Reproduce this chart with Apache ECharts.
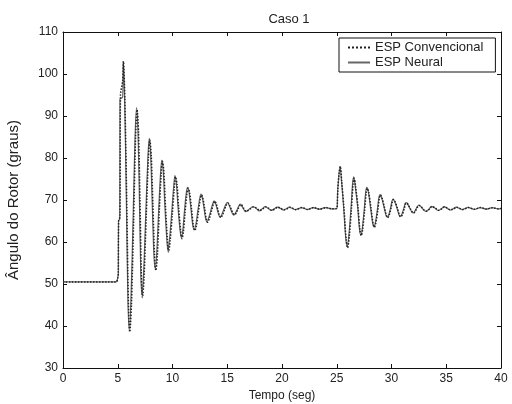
<!DOCTYPE html>
<html><head><meta charset="utf-8">
<script src="https://cdn.jsdelivr.net/npm/echarts@6/dist/echarts.min.js"></script>
<style>html,body{margin:0;padding:0;background:#fff}#c{width:512px;height:404px}</style>
</head><body><div id="c"></div>
<script>
const titleText = 'Caso 1';
const xName = 'Tempo (seg)';
const yName = 'Ângulo do Rotor (graus)';
const seriesNames = ['ESP Convencional', 'ESP Neural'];

const tNeural = [0,4.85,5.0,5.05,5.07,5.18,5.2,5.45,5.5,5.62,5.78,5.92,6.05,6.2,6.4,6.58,6.72,6.85,6.98,7.1,7.2,7.35,7.55,7.75,7.88,8.0,8.15,8.3,8.42,8.55,8.72,8.9,9.02,9.15,9.3,9.47,9.58,9.72,9.92,10.1,10.22,10.35,10.5,10.68,10.8,10.93,11.08,11.25,11.37,11.5,11.68,11.85,11.98,12.12,12.3,12.48,12.6,12.72,12.88,13.03,13.15,13.3,13.48,13.66,13.8,13.93,14.08,14.23,14.36,14.5,14.68,14.86,15.0,15.13,15.3,15.47,15.6,15.75,15.95,16.1,16.2,16.45,16.68,17.0,17.35,17.65,17.9,18.2,18.45,18.75,19.0,19.3,19.55,19.85,20.1,20.4,20.65,20.95,21.2,21.5,21.75,22.05,22.3,22.85,23.4,23.95,24.5,25.0,25.05,25.08,25.2,25.3,25.42,25.62,25.82,25.95,26.1,26.3,26.45,26.55,26.68,26.9,27.08,27.2,27.32,27.5,27.65,27.75,27.88,28.08,28.28,28.4,28.52,28.7,28.85,28.95,29.1,29.3,29.48,29.6,29.75,29.92,30.05,30.15,30.3,30.5,30.68,30.8,30.95,31.12,31.25,31.35,31.5,31.7,31.87,31.98,32.15,32.35,32.5,32.7,32.95,33.15,33.45,33.65,34.0,34.25,34.55,34.8,35.1,35.35,35.65,35.9,36.2,36.45,37.0,37.55,38.1,38.65,39.2,39.75,40.0];
const yNeural = [50.5,50.5,51.5,52.5,65,65.5,94,94.5,103,95,71,47,39,46,65.5,85,92,86,70,53,47.4,52,66,80,84.7,81,69,57,53.7,57,66.6,76,79.5,77,68.7,61,58,60.5,66.7,73,75.8,74,68.4,63,61.1,62.5,67,71.5,73,72,68,64,62.9,64,67.2,70.3,71.4,70.6,68,65.5,64.8,65.7,67.3,69,69.8,69.2,67.8,66.4,65.9,66.5,67.7,68.9,69.4,69,67.9,66.8,66.4,66.9,68,68.8,69.0,68.0,67.2,67.8,68.4,68.0,67.4,67.9,68.4,68.0,67.5,67.9,68.3,68.0,67.6,67.9,68.3,68.0,67.7,67.9,68.2,68.0,67.7,68.2,67.8,68.2,67.9,68.0,69,72,76,78,75,68.5,61,59,61.5,68,74,75.5,73.5,68.5,63,61.7,63,67.5,72,73,72,68.3,64.5,63.6,64.5,67.5,70.6,71.3,70.5,68.5,66.5,65.9,66.5,68.2,69.8,70.2,69.6,68.1,66.5,66.1,66.6,68,69.2,69.4,68.9,67.9,67.1,66.9,67.4,68.4,68.8,68.4,67.6,67.3,67.9,68.5,68.0,67.5,67.9,68.4,68.0,67.6,67.9,68.3,68.0,67.7,68.25,67.75,68.2,67.8,68.2,67.85,68.0];

const tConv = [0,4.85,5.0,5.05,5.08,5.2,5.25,5.45,5.52,5.65,5.82,5.97,6.1,6.25,6.45,6.63,6.77,6.9,7.03,7.15,7.26,7.4,7.6,7.8,7.93,8.06,8.21,8.36,8.48,8.61,8.78,8.96,9.08,9.21,9.36,9.53,9.64,9.78,9.98,10.16,10.28,10.41,10.56,10.74,10.86,10.99,11.14,11.31,11.43,11.56,11.74,11.91,12.04,12.18,12.36,12.54,12.66,12.78,12.94,13.09,13.21,13.36,13.54,13.72,13.86,13.99,14.14,14.29,14.42,14.56,14.74,14.92,15.06,15.19,15.36,15.53,15.66,15.81,16.01,16.16,16.26,16.51,16.74,17.06,17.41,17.71,17.96,18.26,18.51,18.81,19.06,19.36,19.61,19.91,20.16,20.46,20.71,21.01,21.26,21.81,22.36,22.91,23.46,24.01,24.56,25.0,25.06,25.1,25.22,25.33,25.45,25.66,25.86,25.99,26.14,26.34,26.49,26.59,26.72,26.94,27.12,27.24,27.36,27.54,27.69,27.79,27.92,28.12,28.32,28.44,28.56,28.74,28.89,28.99,29.14,29.34,29.52,29.64,29.79,29.96,30.09,30.19,30.34,30.54,30.72,30.84,30.99,31.16,31.29,31.39,31.54,31.74,31.91,32.02,32.19,32.39,32.54,32.74,32.99,33.19,33.49,33.69,34.04,34.29,34.59,34.84,35.14,35.39,35.69,35.94,36.24,36.49,37.04,37.59,38.14,38.69,39.24,39.79,40];
const yConv = [50.5,50.5,51.5,52.5,65,66,95,98.5,103,94,70,46,38.6,45,65,85,91.5,86,70,53,46.8,51.5,66,80,84.3,80.5,69,57,53.2,56.5,66.5,76,79.2,76.8,68.5,60.7,57.6,60.2,66.5,72.8,75.5,73.8,68.2,62.8,60.8,62.3,66.8,71.4,72.8,71.8,67.8,63.8,62.7,63.8,67.1,70.2,71.2,70.4,67.9,65.4,64.7,65.6,67.2,68.9,69.7,69.1,67.7,66.3,65.8,66.4,67.6,68.8,69.3,68.9,67.8,66.8,66.5,66.9,68,68.7,68.9,68,67.3,67.8,68.35,68,67.5,67.9,68.35,68,67.55,67.9,68.3,68,67.65,67.9,68.25,68,67.7,68.2,67.75,68.2,67.8,68.2,67.9,68,69.5,72.5,76.5,78,74.5,68,60.5,58.6,61.2,67.8,73.8,75.2,73.2,68.3,62.8,61.5,62.9,67.4,71.8,72.8,71.8,68.2,64.4,63.5,64.4,67.4,70.5,71.2,70.4,68.4,66.4,65.8,66.4,68.1,69.7,70.1,69.5,68,66.4,66,66.5,67.9,69.1,69.3,68.8,67.8,67.1,66.9,67.4,68.4,68.7,68.3,67.6,67.35,67.9,68.45,68,67.55,67.9,68.35,68,67.65,67.9,68.3,68,67.75,68.2,67.8,68.2,67.85,68.15,67.9,68];

const xTicks = {min: 0, max: 40, interval: 5};
const yTicks = {min: 30, max: 110, interval: 10};

const pair = (t, y) => t.map((v, i) => [v, y[i]]);
const font = 'Liberation Sans, Arial, sans-serif';
const chart = echarts.init(document.getElementById('c'));
const axisCommon = {
  axisLine: {show: true, onZero: false, lineStyle: {color: '#111', width: 1}},
  axisTick: {show: true, inside: true, length: 4, lineStyle: {color: '#111'}},
  splitLine: {show: false}
};
chart.setOption({
  animation: false,
  backgroundColor: '#fff',
  title: {text: titleText, left: 284, textAlign: 'center', top: 8,
    textStyle: {fontFamily: font, fontSize: 13, fontWeight: 'normal', color: '#222'}},
  grid: {left: 63, right: 11, top: 32, bottom: 36, containLabel: false, outerBoundsMode: 'none'},
  legend: {
    data: seriesNames, orient: 'vertical', left: 339, top: 38,
    itemWidth: 22, itemHeight: 14, itemGap: 2,
    padding: [3, 12, 3, 8], backgroundColor: '#fff',
    borderColor: '#111', borderWidth: 1, borderRadius: 0,
    itemStyle: {opacity: 0},
    textStyle: {fontFamily: font, fontSize: 13, color: '#222'}
  },
  xAxis: [
    Object.assign({type: 'value', position: 'bottom', min: xTicks.min, max: xTicks.max, interval: xTicks.interval,
      name: xName, nameLocation: 'middle', nameGap: 20,
      nameTextStyle: {fontFamily: font, fontSize: 12, color: '#222'},
      axisLabel: {fontFamily: font, fontSize: 12, color: '#222', margin: 5}}, axisCommon),
    Object.assign({type: 'value', position: 'top', min: xTicks.min, max: xTicks.max, interval: xTicks.interval,
      axisLabel: {show: false}}, axisCommon)
  ],
  yAxis: [
    Object.assign({type: 'value', position: 'left', min: yTicks.min, max: yTicks.max, interval: yTicks.interval,
      name: yName, nameLocation: 'middle', nameGap: 42,
      nameTextStyle: {fontFamily: font, fontSize: 15, color: '#222'},
      axisLabel: {fontFamily: font, fontSize: 12, color: '#222', margin: 5}}, axisCommon),
    Object.assign({type: 'value', position: 'right', min: yTicks.min, max: yTicks.max, interval: yTicks.interval,
      axisLabel: {show: false}}, axisCommon)
  ],
  series: [
    {name: seriesNames[0], type: 'line', data: pair(tConv, yConv), symbol: 'none', smooth: 0.3, z: 3,
      lineStyle: {color: '#222', width: 1.5, type: 'dotted'}, itemStyle: {color: '#222'}},
    {name: seriesNames[1], type: 'line', data: pair(tNeural, yNeural), symbol: 'none', smooth: 0.3, z: 2,
      lineStyle: {color: '#666', width: 1.2, type: 'solid'}, itemStyle: {color: '#666'}}
  ]
});
</script></body></html>
